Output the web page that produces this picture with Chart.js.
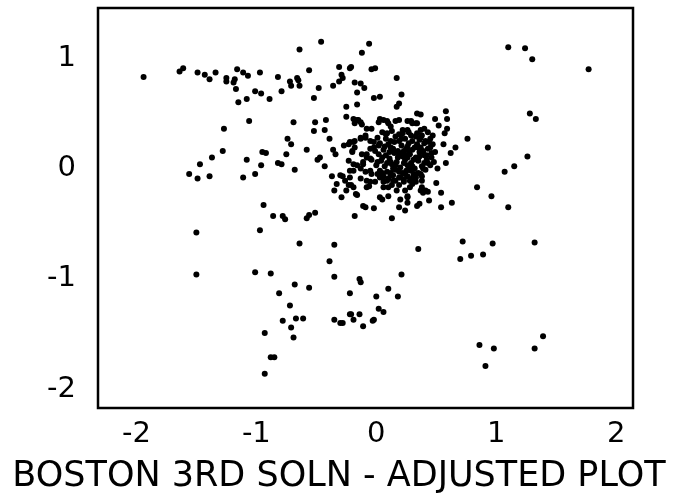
<!DOCTYPE html>
<html>
<head>
<meta charset="utf-8">
<script src="https://cdn.jsdelivr.net/npm/chart.js@4/dist/chart.umd.min.js"></script>
<style>
  html, body { margin: 0; padding: 0; background: #fff; }
  #wrap { width: 678px; height: 498px; }
</style>
</head>
<body>
<div id="wrap"><canvas id="scatterChart" width="678" height="498"></canvas></div>
<script>
// tick labels
const xTicks = [-2, -1, 0, 1, 2];
const yTicks = [-2, -1, 0, 1];
const chartTitle = 'BOSTON 3RD SOLN - ADJUSTED PLOT';

// points, grouped by area
const topBand = [
    [-1.94,0.83],[-1.64,0.88],[-1.61,0.91],[-1.49,0.87],[-1.43,0.85],[-1.39,0.81],[-1.34,0.87],[-1.25,0.82],
    [-1.25,0.79],[-1.18,0.81],[-1.19,0.78],[-1.16,0.90],[-1.11,0.87],[-1.07,0.84],[-1.17,0.72],[-0.97,0.87],
    [-1.01,0.70],[-0.96,0.68],[-1.08,0.63],[-1.15,0.60],[-0.89,0.63],[-0.82,0.83],[-0.79,0.70],[-0.72,0.79],
    [-0.71,0.75],[-0.66,0.82],[-0.65,0.80],[-0.64,0.75],[-0.64,1.08],[-0.56,0.89],[-0.46,1.15],[-0.48,0.73],
    [-0.52,0.64],[-0.36,0.75],[-0.31,0.92],[-0.29,0.85],[-0.28,0.82],[-0.31,0.79],[-0.22,0.91],[-0.06,1.13],
    [-0.12,1.05],[-0.21,0.92],[-0.04,0.90],[-0.01,0.91],[-0.18,0.78],[-0.13,0.77],[-0.10,0.73],[0.17,0.82],
    [-0.16,0.69],[-0.02,0.64],[0.03,0.65],[0.21,0.67],[0.19,0.59],[0.17,0.56],[-0.16,0.58],[-0.25,0.56],
    [-0.25,0.47]
];
const rightSide = [
    [1.10,1.10],[1.24,1.09],[1.30,0.99],[1.77,0.90],[1.28,0.50],[1.33,0.45],
    [0.84,-0.17],[0.96,-0.25],[1.15,0.02],[1.07,-0.03],[1.26,0.11],[0.93,0.19],[0.76,0.27]
];
const leftMiddle = [
    [-1.27,0.36],[-1.06,0.43],[-0.69,0.42],[-0.51,0.42],[-0.42,0.44],[-0.52,0.34],[-0.43,0.35],[-0.74,0.27],
    [-0.71,0.22],[-0.39,0.27],[-0.58,0.17],[-0.36,0.17],[-0.34,0.13],[-0.27,0.21],[-0.23,0.22],[-1.28,0.16],
    [-1.37,0.10],[-1.47,0.04],[-1.56,-0.05],[-1.49,-0.09],[-1.39,-0.07],[-1.08,0.08],[-0.95,0.15],[-0.92,0.14],
    [-0.96,0.03],[-0.75,0.13],[-0.82,0.05],[-0.79,0.04],[-1.01,-0.05],[-1.11,-0.08],[-0.68,-0.01],[-0.49,0.08],
    [-0.47,0.10],[-0.43,0.02],[-0.37,-0.07],[-0.28,-0.07],[-0.33,-0.14],[-0.35,-0.20],[-0.25,-0.20],[-0.29,-0.26],
    [-0.94,-0.33],[-0.23,0.07],[-0.23,-0.15],[-0.86,-0.43],[-0.78,-0.43],[-0.76,-0.46],[-0.58,-0.45],[-0.56,-0.42],
    [-0.51,-0.40],[-1.50,-0.58],[-0.97,-0.56]
];
const lowerArea = [
    [-0.64,-0.68],[-0.35,-0.69],[-0.39,-0.84],[-1.50,-0.96],[-1.01,-0.94],[-0.88,-0.95],[-0.35,-0.98],[-0.68,-1.05],
    [-0.56,-1.08],[-0.81,-1.13],[-0.22,-1.13],[-0.72,-1.24],[-0.78,-1.38],[-0.71,-1.44],[-0.67,-1.36],[-0.61,-1.36],
    [-0.35,-1.37],[-0.30,-1.40],[-0.28,-1.40],[-0.22,-1.32],[-0.93,-1.49],[-0.69,-1.53],[-0.88,-1.71],[-0.85,-1.71],
    [-0.93,-1.86],[0.35,-0.73],[0.72,-0.66],[0.70,-0.82],[0.79,-0.79],[0.89,-0.78],[0.97,-0.68],[1.32,-0.67],
    [0.21,-0.96],[-0.14,-1.00],[-0.13,-1.03],[0.10,-1.09],[0.00,-1.16],[0.18,-1.16],[0.02,-1.27],[0.06,-1.30],
    [-0.21,-1.32],[-0.14,-1.32],[-0.19,-1.37],[-0.02,-1.37],[-0.03,-1.38],[-0.11,-1.43],[0.86,-1.60],[0.98,-1.63],
    [0.91,-1.79],[1.32,-1.63],[1.39,-1.52]
];
const clusterEdge = [
    [-0.11,-0.34],[-0.09,-0.35],[-0.02,-0.36],[-0.18,-0.43],[0.13,-0.45],[0.19,-0.35],[0.24,-0.38],[0.26,-0.31],
    [0.34,-0.34],[0.36,-0.32],[0.44,-0.29],[0.54,-0.35],[0.63,-0.31],[1.10,-0.35],[0.26,-0.25],[0.30,-0.14],
    [0.10,-0.25],[0.05,-0.28],[-0.17,-0.23],[-0.21,-0.15],[-0.06,-0.16],[0.39,-0.22],[0.43,-0.21],[0.50,-0.13],
    [0.54,-0.22],[0.51,0.00],[0.58,0.05],[0.66,0.19],[0.62,0.14],[0.59,0.36],[0.56,0.22],[0.58,0.52],
    [0.59,0.45],[0.49,0.45],[0.34,0.50],[0.37,0.49],[-0.16,-0.24],[0.20,-0.28],[0.26,-0.26],[0.03,-0.26],
    [-0.16,0.44],[-0.13,0.42],[-0.18,0.41],[-0.08,0.36],[-0.04,0.36],[0.02,0.42],[0.06,0.44],[0.10,0.41],
    [0.12,0.38],[0.09,0.32],[0.19,0.44],[0.26,0.43],[0.30,0.41],[0.34,0.41],[0.52,0.39],[0.57,0.32],
    [0.45,0.19],[0.49,0.15],[0.37,0.19],[0.39,0.15],[0.42,0.12],[0.37,0.28],[0.41,0.25],[0.37,0.35],
    [0.34,0.32],[0.26,0.35],[0.22,0.32],[-0.19,0.24],[-0.20,0.16],[-0.18,0.19],[-0.13,0.27],[-0.09,0.30],
    [-0.02,0.24],[0.02,0.21],[-0.01,0.16],[-0.08,0.13],[-0.05,0.09],[-0.11,0.06],[-0.16,0.03],[-0.19,-0.02],
    [-0.13,0.00],[-0.09,-0.03],[-0.05,-0.02],[0.01,-0.05],[0.05,-0.08],[0.09,-0.11],[0.12,-0.06],[0.16,-0.11],
    [0.20,-0.08],[0.24,-0.05],[0.28,-0.11],[0.31,-0.06],[0.37,-0.05],[0.39,0.00],[0.06,-0.17],[0.13,-0.15],
    [0.17,-0.20],[0.24,-0.20],[0.37,-0.20],[0.41,-0.20],[0.38,-0.17],[-0.30,-0.06],[-0.26,-0.11],[-0.22,-0.08],
    [-0.19,-0.17],[-0.08,-0.17],[-0.05,-0.12],[-0.19,0.45],[-0.15,0.44],[-0.12,0.40],[0.03,0.45],[0.09,0.43],
    [0.16,0.43],[0.29,0.43],[0.33,0.41],[-0.22,0.24],[-0.18,0.25],[-0.13,0.28],[-0.09,0.28],[-0.05,0.25],
    [-0.02,0.19],[-0.12,0.13],[-0.08,0.10],[-0.11,0.04],[-0.20,0.15],[-0.19,0.04],[-0.22,-0.02],[-0.13,-0.09],
    [-0.08,-0.11],[-0.04,-0.05],[-0.01,-0.12],[0.03,-0.08],[0.06,-0.12],[0.10,-0.17],[0.14,-0.11],[0.19,-0.15],
    [0.23,-0.12],[0.28,-0.17],[0.33,-0.12],[0.38,-0.11]
];
const denseCore = [
    [0.05,0.33],[0.13,0.34],[0.19,0.31],[0.27,0.33],[0.33,0.29],[0.43,0.33],
    [0.01,0.28],[0.08,0.27],[0.16,0.29],[0.24,0.27],[0.30,0.25],[0.38,0.30],[0.45,0.27],
    [0.03,0.23],[0.10,0.22],[0.15,0.24],[0.21,0.21],[0.27,0.23],[0.34,0.22],[0.40,0.23],[0.47,0.22],
    [-0.05,0.18],[0.06,0.17],[0.12,0.19],[0.18,0.16],[0.25,0.18],[0.30,0.17],[0.36,0.15],[0.43,0.18],
    [0.02,0.13],[0.08,0.12],[0.15,0.14],[0.22,0.11],[0.28,0.13],[0.33,0.10],[0.40,0.12],[0.46,0.10],
    [-0.04,0.08],[0.04,0.07],[0.11,0.09],[0.17,0.06],[0.24,0.08],[0.29,0.05],[0.35,0.07],[0.43,0.05],
    [0.00,0.03],[0.07,0.02],[0.13,0.04],[0.20,0.01],[0.26,0.03],[0.32,0.00],[0.38,0.02],[0.45,0.03],
    [0.03,-0.02],[0.09,-0.03],[0.16,-0.01],[0.22,-0.04],[0.29,-0.02],[0.35,-0.04],[0.41,-0.01],
    [0.06,-0.07],[0.14,-0.06],[0.19,-0.08],[0.26,-0.07],[0.33,-0.08],
    [0.21,0.27],[0.25,0.12],[0.18,0.10],[0.32,0.19],[0.11,0.15],[0.27,-0.01],[0.14,0.00],[0.36,0.26],
    [0.23,0.16],[0.31,0.08],
    [0.08,0.31],[0.22,0.35],[0.29,0.30],[0.40,0.36],[0.47,0.30],[0.12,0.25],[0.19,0.25],[0.26,0.20],
    [0.35,0.19],[0.44,0.24],[0.07,0.20],[0.14,0.18],[0.21,0.14],[0.27,0.16],[0.39,0.16],[0.46,0.14],
    [0.05,0.10],[0.12,0.06],[0.19,0.12],[0.26,0.10],[0.36,0.11],[0.42,0.08],[0.01,0.06],[0.09,0.05],
    [0.16,0.03],[0.23,0.05],[0.30,0.02],[0.40,0.05],[0.48,0.06],[0.05,-0.04],[0.12,-0.04],[0.19,-0.03],
    [0.25,-0.02],[0.32,-0.05],[0.38,-0.07],[0.10,-0.09],[0.23,-0.10],[0.30,-0.09]
];

const allPoints = [].concat(topBand, rightSide, leftMiddle, lowerArea, clusterEdge, denseCore)
    .map(p => ({ x: p[0], y: p[1] }));

const FONT = 'DejaVu Sans';

// thick frame round the plot area
const boxBorder = {
    id: 'boxBorder',
    afterDraw(chart) {
        const { ctx, chartArea: a } = chart;
        ctx.save();
        ctx.strokeStyle = '#000';
        ctx.lineWidth = 2.5;
        ctx.strokeRect(a.left, a.top, a.right - a.left, a.bottom - a.top);
        ctx.restore();
    }
};

const noPad = s => { s.paddingTop = 0; s.paddingBottom = 0; s.paddingLeft = 0; s.paddingRight = 0; };

const ctx = document.getElementById('scatterChart').getContext('2d');
new Chart(ctx, {
    type: 'scatter',
    data: {
        datasets: [{
            data: allPoints,
            backgroundColor: '#000',
            borderWidth: 0,
            pointRadius: 3,
            pointHoverRadius: 3
        }]
    },
    options: {
        responsive: false,
        animation: false,
        events: [],
        layout: { padding: { top: 8, left: 0, right: 0, bottom: 0 } },
        scales: {
            x: {
                type: 'linear',
                min: -2.32,
                max: 2.14,
                grid: { display: false, drawTicks: false },
                border: { display: false },
                afterBuildTicks: s => { s.ticks = xTicks.map(v => ({ value: v })); },
                afterFit: s => { s.height = 40; noPad(s); },
                ticks: {
                    color: '#000',
                    font: { family: FONT, size: 29 },
                    padding: 9,
                    maxRotation: 0,
                    autoSkip: false,
                    callback: (v, i) => String(xTicks[i])
                }
            },
            y: {
                type: 'linear',
                min: -2.17,
                max: 1.455,
                grid: { display: false, drawTicks: false },
                border: { display: false },
                afterBuildTicks: s => { s.ticks = yTicks.map(v => ({ value: v })); },
                afterFit: s => { s.width = 98; noPad(s); },
                ticks: {
                    color: '#000',
                    font: { family: FONT, size: 29 },
                    padding: 22,
                    autoSkip: false,
                    callback: (v, i) => String(yTicks[i])
                }
            },
            yRight: {
                position: 'right',
                display: true,
                grid: { display: false, drawTicks: false },
                border: { display: false },
                ticks: { display: false },
                afterFit: s => { s.width = 45; noPad(s); }
            }
        },
        plugins: {
            legend: { display: false },
            tooltip: { enabled: false },
            title: {
                display: true,
                text: chartTitle,
                position: 'bottom',
                color: '#000',
                font: { family: FONT, size: 35, weight: 'normal' },
                padding: { top: 8, bottom: 0 }
            }
        }
    },
    plugins: [boxBorder]
});
</script>
</body>
</html>
